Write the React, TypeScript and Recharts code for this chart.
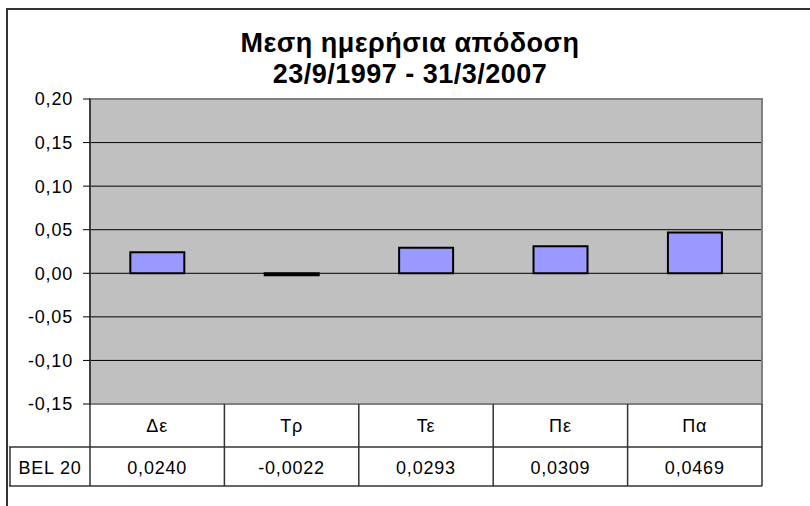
import React from 'react';
import { BarChart, Bar, XAxis, YAxis, CartesianGrid, ReferenceArea } from 'recharts';

const categories = ['Δε', 'Τρ', 'Τε', 'Πε', 'Πα'];
const bel20 = [0.024, -0.0022, 0.0293, 0.0309, 0.0469];
const yTicks = [-0.15, -0.1, -0.05, 0, 0.05, 0.1, 0.15, 0.2];
const seriesName = 'BEL 20';
const titleLines = ['Μεση ημερήσια απόδοση', '23/9/1997 - 31/3/2007'];

const data = categories.map((c, i) => ({ cat: c, value: bel20[i] }));

const W = 810;
const H = 506;
const PLOT_LEFT = 90;
const PLOT_RIGHT = 762;
const TABLE_TOP = 404;
const ROW_SPLIT = 447;
const TABLE_BOTTOM = 486;
const FONT = '"Liberation Sans", Arial, sans-serif';
const LINE = '#333333';

const comma = (v: number, d: number) => v.toFixed(d).replace('.', ',');

// category label + data table cell, drawn per tick
const TableTick = (props: any) => {
  const { x, payload, index } = props;
  const band = (PLOT_RIGHT - PLOT_LEFT) / categories.length;
  const right = x + band / 2;
  const txt = { fontFamily: FONT, fontSize: 18, letterSpacing: 0.8, fill: '#000' };
  return (
    <g>
      {index === 0 && (
        <g>
          <line x1={x - band / 2} y1={TABLE_TOP} x2={x - band / 2} y2={TABLE_BOTTOM} stroke={LINE} strokeWidth={1.5} />
          <line x1={9} y1={ROW_SPLIT} x2={PLOT_RIGHT} y2={ROW_SPLIT} stroke={LINE} strokeWidth={1.5} />
          <line x1={9} y1={TABLE_BOTTOM} x2={PLOT_RIGHT} y2={TABLE_BOTTOM} stroke={LINE} strokeWidth={1.5} />
          <line x1={10} y1={ROW_SPLIT} x2={10} y2={TABLE_BOTTOM} stroke={LINE} strokeWidth={1.5} />
          <text x={(10 + PLOT_LEFT) / 2} y={474} textAnchor="middle" {...txt}>{seriesName}</text>
        </g>
      )}
      <line x1={right} y1={TABLE_TOP} x2={right} y2={TABLE_BOTTOM} stroke={LINE} strokeWidth={1.5} />
      <text x={x} y={432} textAnchor="middle" {...txt}>{payload.value}</text>
      <text x={x} y={474} textAnchor="middle" {...txt}>{comma(bel20[index], 4)}</text>
    </g>
  );
};

export default function App() {
  return (
    <div style={{ position: 'absolute', left: 0, top: 0, width: W, height: H, overflow: 'hidden', background: '#fff' }}>
      <div style={{ position: 'absolute', left: 6, top: 8, width: 840, height: 560, border: `2px solid ${LINE}` }} />
      <div
        style={{
          position: 'absolute', left: 5, top: 28, width: 810, textAlign: 'center',
          fontFamily: FONT, fontWeight: 'bold', fontSize: 27, lineHeight: '31px', letterSpacing: 0.5, color: '#000',
        }}
      >
        {titleLines.map(t => <div key={t}>{t}</div>)}
      </div>
      <div style={{ position: 'absolute', left: 0, top: 0 }}>
        <BarChart width={W} height={H} data={data} margin={{ top: 99, right: W - PLOT_RIGHT, left: 0, bottom: 20 }} barCategoryGap="30%">
          <CartesianGrid vertical={false} stroke="#000" fill="#C0C0C0" fillOpacity={1} />
          <ReferenceArea y1={-0.15} y2={0.2} fill="none" stroke="#808080" strokeWidth={2} ifOverflow="visible" />
          <XAxis dataKey="cat" height={82} axisLine={false} tickLine={false} tick={<TableTick />} interval={0} />
          <YAxis
            width={PLOT_LEFT}
            domain={[-0.15, 0.2]}
            ticks={yTicks}
            allowDataOverflow
            tickFormatter={(v: number) => comma(v, 2)}
            tickSize={7}
            tickMargin={10}
            stroke="#000"
            tick={{ fill: '#000', fontFamily: FONT, fontSize: 18, letterSpacing: 0.8 }}
          />
          <Bar dataKey="value" fill="#9999FF" stroke="#000" strokeWidth={2} isAnimationActive={false} />
        </BarChart>
      </div>
    </div>
  );
}
